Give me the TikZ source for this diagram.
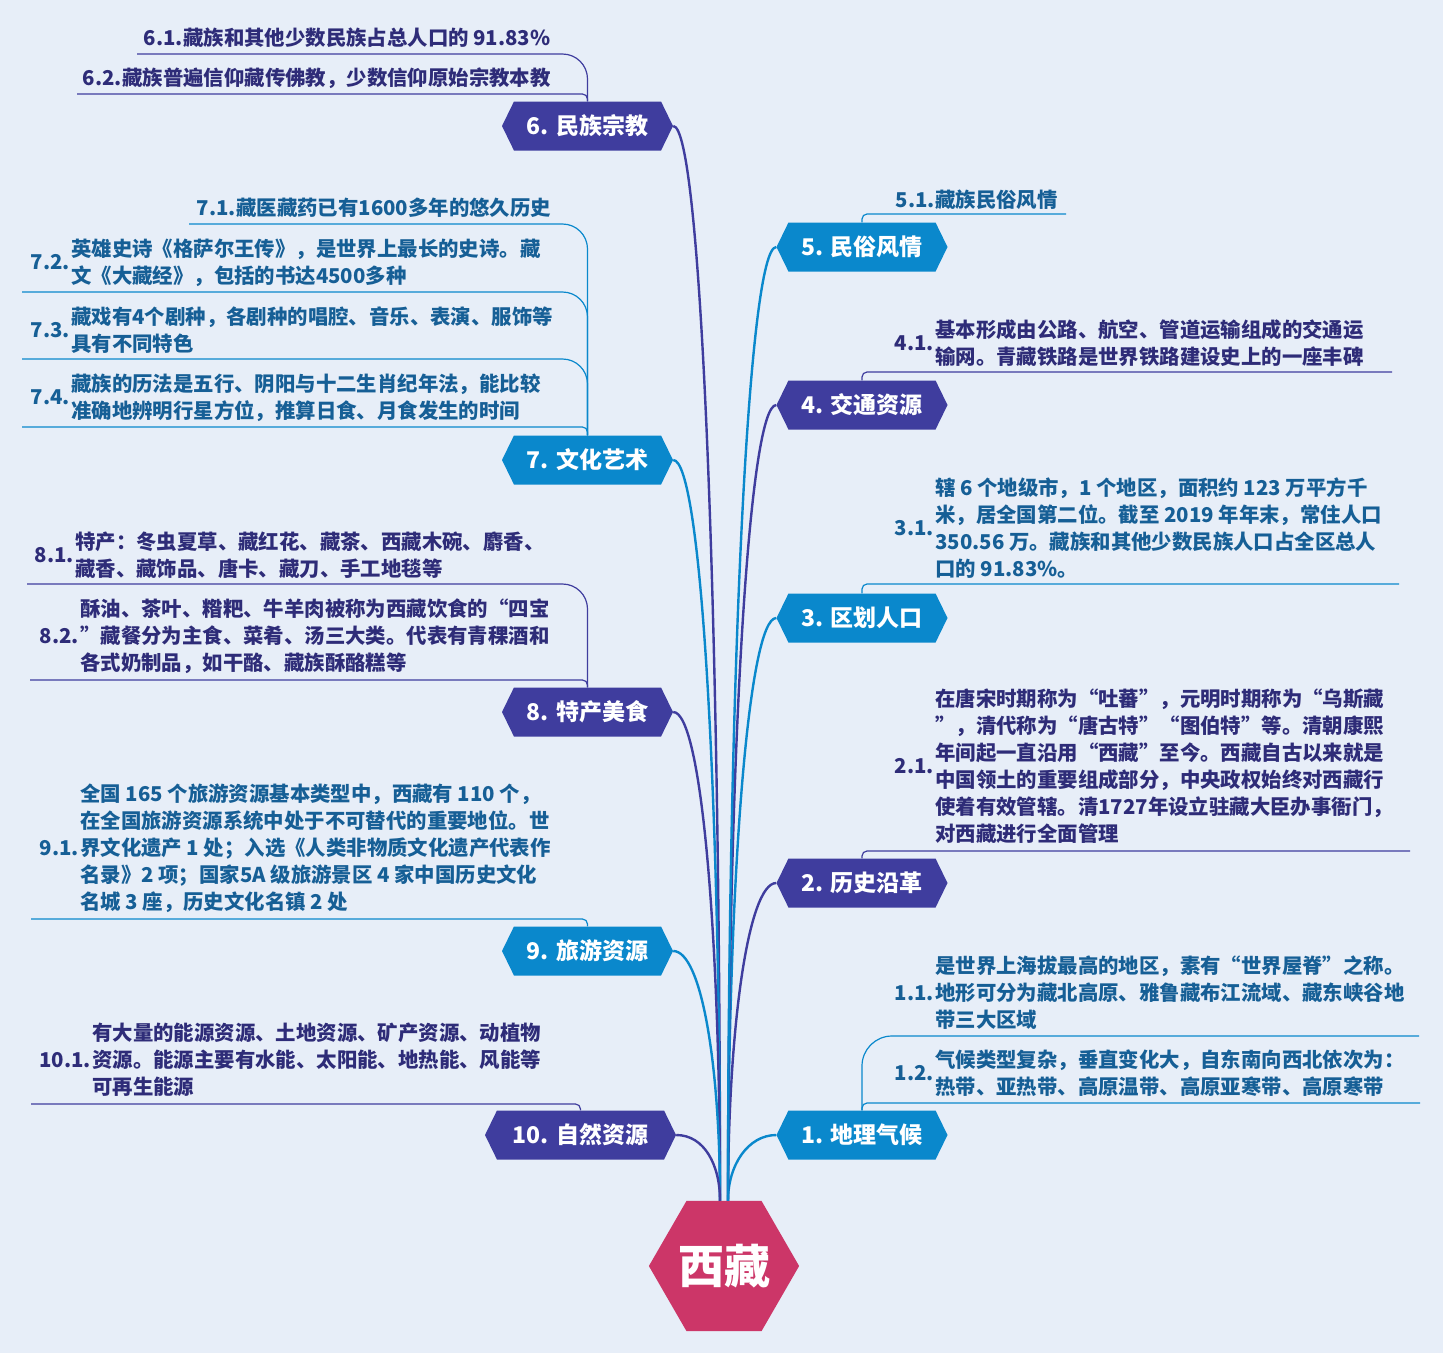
\documentclass[tikz,border=0pt]{standalone}
\usepackage{fontspec}
\setmainfont{Noto Sans CJK SC}
\usetikzlibrary{positioning,shapes.symbols,shapes.geometric}

\definecolor{bgcol}{HTML}{E7EEF8}
\definecolor{rootcol}{HTML}{CC3668}
\definecolor{brA}{HTML}{0A88CC}
\definecolor{brB}{HTML}{3F3D9E}
\definecolor{txtA}{HTML}{165F96}
\definecolor{txtB}{HTML}{2E2C78}

\tikzset{
  branch/.style={signal, signal to=east and west, signal pointer angle=128,
    minimum height=49pt, minimum width=171pt, inner sep=0pt, text=white,
    font=\fontsize{23}{26}\selectfont\bfseries},
  branchA/.style={branch, fill=brA},
  branchB/.style={branch, fill=brB},
  subtxt/.style={align=left, inner sep=0pt, anchor=west,
    font=\fontsize{20.4}{27}\selectfont\bfseries},
  subA/.style={subtxt, text=txtA},
  subB/.style={subtxt, text=txtB},
  lbl/.style={inner sep=0pt, font=\fontsize{20.4}{27}\selectfont\bfseries},
  lineA/.style={brA, line width=1.2pt},
  lineB/.style={brB, line width=1.2pt},
}

\begin{document}
\begin{tikzpicture}[x=1pt, y=-1pt]
  % page
  \fill[bgcol] (0,0) rectangle (1443,1353);
  \useasboundingbox (0,0) rectangle (1443,1353);

  % centre
  \node[regular polygon, regular polygon sides=6, minimum size=150pt, inner sep=0pt,
    fill=rootcol, text=white, font=\fontsize{46}{50}\selectfont\bfseries] (root) at (724,1266) {西藏};

  % main topics
  \node[branchA] (n1) at (862,1135) {1. 地理气候};
  \node[branchB] (n2) at (862,883) {2. 历史沿革};
  \node[branchA] (n3) at (862,618) {3. 区划人口};
  \node[branchB] (n4) at (862,405) {4. 交通资源};
  \node[branchA] (n5) at (862,247) {5. 民俗风情};
  \node[branchB] (n6) at (587.5,126) {6. 民族宗教};
  \node[branchA] (n7) at (587.5,460) {7. 文化艺术};
  \node[branchB] (n8) at (587.5,712) {8. 特产美食};
  \node[branchA] (n9) at (587.5,951) {9. 旅游资源};
  \node[branchB, minimum width=191pt] (n10) at (580.5,1135) {10. 自然资源};

  \foreach \n/\c/\d in {n1/brA/36, n2/brB/174, n3/brA/320, n4/brB/437, n5/brA/524}
    \draw[\c, line width=2.4pt] ([xshift=4pt]root.north) .. controls +(0,-\d) and +(-28,0) .. (\n.west);
  \foreach \n/\c/\d in {n6/brB/590, n7/brA/407, n8/brB/268, n9/brA/137, n10/brB/36}
    \draw[\c, line width=2.4pt] ([xshift=-4pt]root.north) .. controls +(0,-\d) and +(28,0) .. (\n.east);

  % right side details
  \node[subA] (t51) at (935,200) {藏族民俗风情};
  \node[lbl, text=txtA, left=0pt of t51] (l51) {5.1.};
  \node[subB] (t41) at (935,343) {基本形成由公路、航空、管道运输组成的交通运\\输网。青藏铁路是世界铁路建设史上的一座丰碑};
  \node[lbl, text=txtB, left=1pt of t41] (l41) {4.1.};
  \node[subA] (t31) at (935,528.5) {辖 6 个地级市，1 个地区，面积约 123 万平方千\\米，居全国第二位。截至 2019 年年末，常住人口\\350.56 万。藏族和其他少数民族人口占全区总人\\口的 91.83\%。};
  \node[lbl, text=txtA, left=1pt of t31] (l31) {3.1.};
  \node[subB] (t21) at (935,766.5) {在唐宋时期称为“吐蕃”，元明时期称为“乌斯藏\\”，清代称为“唐古特”“图伯特”等。清朝康熙\\年间起一直沿用“西藏”至今。西藏自古以来就是\\中国领土的重要组成部分，中央政权始终对西藏行\\使着有效管辖。清1727年设立驻藏大臣办事衙门，\\对西藏进行全面管理};
  \node[lbl, text=txtB, left=1pt of t21] (l21) {2.1.};
  \node[subA] (t11) at (935,993) {是世界上海拔最高的地区，素有“世界屋脊”之称。\\地形可分为藏北高原、雅鲁藏布江流域、藏东峡谷地\\带三大区域};
  \node[lbl, text=txtA, left=1pt of t11] (l11) {1.1.};
  \node[subA] (t12) at (935,1073.5) {气候类型复杂，垂直变化大，自东南向西北依次为：\\热带、亚热带、高原温带、高原亚寒带、高原寒带};
  \node[lbl, text=txtA, left=1pt of t12] (l12) {1.2.};

  % left side details
  \node[subB] (t61) at (183,38) {藏族和其他少数民族占总人口的 91.83\%};
  \node[lbl, text=txtB, left=0pt of t61] (l61) {6.1.};
  \node[subB] (t62) at (122,78) {藏族普遍信仰藏传佛教，少数信仰原始宗教本教};
  \node[lbl, text=txtB, left=0pt of t62] (l62) {6.2.};
  \node[subA] (t71) at (236,208) {藏医藏药已有1600多年的悠久历史};
  \node[lbl, text=txtA, left=0pt of t71] (l71) {7.1.};
  \node[subA] (t72) at (71,262.5) {英雄史诗《格萨尔王传》，是世界上最长的史诗。藏\\文《大藏经》，包括的书达4500多种};
  \node[lbl, text=txtA, left=1pt of t72] (l72) {7.2.};
  \node[subA] (t73) at (71,330.5) {藏戏有4个剧种，各剧种的唱腔、音乐、表演、服饰等\\具有不同特色};
  \node[lbl, text=txtA, left=1pt of t73] (l73) {7.3.};
  \node[subA] (t74) at (71,397.5) {藏族的历法是五行、阴阳与十二生肖纪年法，能比较\\准确地辨明行星方位，推算日食、月食发生的时间};
  \node[lbl, text=txtA, left=1pt of t74] (l74) {7.4.};
  \node[subB] (t81) at (75,555.5) {特产：冬虫夏草、藏红花、藏茶、西藏木碗、麝香、\\藏香、藏饰品、唐卡、藏刀、手工地毯等};
  \node[lbl, text=txtB, left=1pt of t81] (l81) {8.1.};
  \node[subB] (t82) at (80,636) {酥油、茶叶、糌粑、牛羊肉被称为西藏饮食的“四宝\\”藏餐分为主食、菜肴、汤三大类。代表有青稞酒和\\各式奶制品，如干酪、藏族酥酪糕等};
  \node[lbl, text=txtB, left=1pt of t82] (l82) {8.2.};
  \node[subA] (t91) at (80,848.5) {全国 165 个旅游资源基本类型中，西藏有 110 个，\\在全国旅游资源系统中处于不可替代的重要地位。世\\界文化遗产 1 处；入选《人类非物质文化遗产代表作\\名录》2 项；国家5A 级旅游景区 4 家中国历史文化\\名城 3 座，历史文化名镇 2 处};
  \node[lbl, text=txtA, left=1pt of t91] (l91) {9.1.};
  \node[subB] (t101) at (92,1060) {有大量的能源资源、土地资源、矿产资源、动植物\\资源。能源主要有水能、太阳能、地热能、风能等\\可再生能源};
  \node[lbl, text=txtB, left=1pt of t101] (l101) {10.1.};

  % underline ends
  \coordinate (u51) at (1066,214);
  \coordinate (u41) at (1392,372);
  \coordinate (u31) at (1399,584);
  \coordinate (u21) at (1410,851);
  \coordinate (u11) at (1419,1036);
  \coordinate (u12) at (1420,1103);
  \coordinate (u61) at (137,54);
  \coordinate (u62) at (77,94);
  \coordinate (u71) at (189,224);
  \coordinate (u72) at (22,292);
  \coordinate (u73) at (22,359);
  \coordinate (u74) at (22,427);
  \coordinate (u81) at (27,584);
  \coordinate (u82) at (30,680);
  \coordinate (u91) at (31,919);
  \coordinate (u101) at (31,1104);

  % detail lines
  \draw[lineA, rounded corners=5pt] (n5.north) |- (u51);
  \draw[lineB, rounded corners=5pt] (n4.north) |- (u41);
  \draw[lineA, rounded corners=5pt] (n3.north) |- (u31);
  \draw[lineB, rounded corners=5pt] (n2.north) |- (u21);
  \draw[lineA, rounded corners=5pt] (n1.north) |- (u12);
  \draw[lineA, rounded corners=30pt] (n1.north) |- (u11);
  \draw[lineB, rounded corners=5pt] (n6.north) |- (u62);
  \draw[lineB, rounded corners=25pt] (n6.north) |- (u61);
  \draw[lineA, rounded corners=5pt] (n7.north) |- (u74);
  \foreach \u in {u73, u72, u71}
    \draw[lineA, rounded corners=25pt] (n7.north) |- (\u);
  \draw[lineB, rounded corners=5pt] (n8.north) |- (u82);
  \draw[lineB, rounded corners=25pt] (n8.north) |- (u81);
  \draw[lineA, rounded corners=5pt] (n9.north) |- (u91);
  \draw[lineB, rounded corners=5pt] (n10.north) |- (u101);
\end{tikzpicture}
\end{document}
